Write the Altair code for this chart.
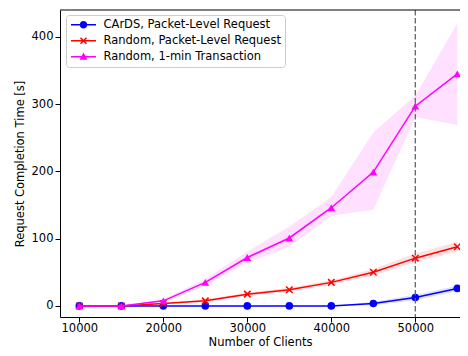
import altair as alt
import pandas as pd

clients = [10000, 15000, 20000, 25000, 30000, 35000, 40000, 45000, 50000, 55000]

series_names = ["CArDS, Packet-Level Request", "Random, Packet-Level Request", "Random, 1-min Transaction"]
series_colors = ["#0000ff", "#ff0000", "#ff00ff"]

cards_mean = [0, 0, 0, 0, 0, 0, 0, 3.5, 12.5, 26]
cards_lo = [0, 0, 0, 0, 0, 0, 0, 1, 8.5, 22]
cards_hi = [0, 0, 0, 0, 0, 0, 0, 6, 16.5, 30]

rand_mean = [0, 0, 3.5, 7.5, 17.5, 24, 35, 50, 71, 88]
rand_lo = [0, 0, 2.5, 5.5, 15, 21, 32, 45, 65, 81]
rand_hi = [0, 0, 4.5, 9.5, 20, 27, 38, 55, 78, 95]

trans_mean = [0, 0, 7.5, 35, 72, 101, 146, 199, 297, 345]
trans_lo = [0, 0, 5, 30, 64, 88, 134, 143, 281, 269]
trans_hi = [0, 0, 10, 40, 81, 118, 162, 258, 313, 420]

vline_x = [50000]

rows = []
for name, m, lo, hi in zip(series_names,
                           [cards_mean, rand_mean, trans_mean],
                           [cards_lo, rand_lo, trans_lo],
                           [cards_hi, rand_hi, trans_hi]):
    for c, a, b, d in zip(clients, m, lo, hi):
        rows.append({"series": name, "clients": c, "mean": a, "lo": b, "hi": d})
df = pd.DataFrame(rows)

FONT = "DejaVu Sans"
FS = 11.5
W, H = 400, 307
xscale = alt.Scale(domain=[7700, 55320], nice=False, zero=False)
yscale = alt.Scale(domain=[-16.5, 440], nice=False, zero=False)

X = alt.X("clients:Q", scale=xscale,
          axis=alt.Axis(title="Number of Clients", values=[10000, 20000, 30000, 40000, 50000],
                        format="d", grid=False))
Y = alt.Y("mean:Q", scale=yscale,
          axis=alt.Axis(title="Request Completion Time [s]", values=[0, 100, 200, 300, 400], grid=False))

base = alt.Chart(df)

marker_shapes = ["circle", "M-1,-1L1,1M-1,1L1,-1", "triangle-up"]
marker_filled = [True, False, True]
marker_sizes = [58, 42, 62]
band_opacity = [0.12, 0.12, 0.12]

layers = []
for name, col, shp, fl, sz, op in zip(series_names, series_colors, marker_shapes,
                                      marker_filled, marker_sizes, band_opacity):
    sub = base.transform_filter(alt.datum.series == name)
    layers.append(sub.mark_area(color=col, opacity=op, clip=True).encode(
        x=X, y=alt.Y("lo:Q", scale=yscale), y2="hi:Q"))
    layers.append(sub.mark_line(color=col, strokeWidth=1.5, clip=True).encode(x=X, y=Y))
    layers.append(sub.mark_point(shape=shp, filled=fl, size=sz, color=col,
                                 strokeWidth=1.5 if not fl else 0, opacity=1, clip=True).encode(x=X, y=Y))

# dashed reference line
vdf = pd.DataFrame({"clients": vline_x})
layers.append(alt.Chart(vdf).mark_rule(color="#666666", strokeWidth=1.3, strokeDash=[5.5, 2.5]).encode(
    x=alt.X("clients:Q", scale=xscale)))

# top spine
layers.append(alt.Chart(vdf).mark_rule(color="#000000", strokeWidth=1).encode(
    x=alt.value(0), x2=alt.value(W), y=alt.value(0)))

# legend carrier (invisible points); symbols are filled paths: line bar + marker
LINE = "M-0.95,-0.15L4.05,-0.15L4.05,0.15L-0.95,0.15Z"
legend_paths = [
    LINE + "M2.3,0A0.75,0.75,0,1,1,0.8,0A0.75,0.75,0,1,1,2.3,0Z",
    LINE + "M1.056,-0.706L2.256,0.494L2.044,0.706L0.844,-0.494Z"
         + "M0.844,0.494L2.044,-0.706L2.256,-0.494L1.056,0.706Z",
    LINE + "M1.55,-0.85L2.35,0.6L0.75,0.6Z",
]
leg = alt.Legend(title=None, orient="none", legendX=6, legendY=5)
layers.append(base.mark_point(opacity=0, filled=True).encode(
    x=X, y=Y,
    shape=alt.Shape("series:N", scale=alt.Scale(domain=series_names, range=legend_paths), legend=leg),
    color=alt.Color("series:N", scale=alt.Scale(domain=series_names, range=series_colors), legend=leg),
))

chart = alt.layer(*layers).properties(
    width=W, height=H,
    autosize=alt.AutoSizeParams(type="none"),
    padding={"left": 52, "top": 2, "right": 0, "bottom": 31},
).configure(font=FONT).configure_view(stroke=None).configure_axis(
    grid=False, domainColor="#000000", tickColor="#000000", tickSize=5, domainWidth=1,
    tickWidth=1, labelFont=FONT, titleFont=FONT, labelFontSize=FS, titleFontSize=FS,
    labelColor="#000000", titleColor="#000000", titleFontWeight="normal",
).configure_axisX(labelPadding=0.5, titlePadding=2).configure_axisY(labelPadding=2, titlePadding=6).configure_legend(
    fillColor="#ffffff", strokeColor="#cccccc", cornerRadius=3, padding=4,
    labelFont=FONT, labelFontSize=FS, labelColor="#000000", symbolSize=100,
    symbolStrokeWidth=0, labelOffset=22, rowPadding=3, labelLimit=300, symbolOpacity=1,
)

chart.save("out.html", embed_options={"renderer": "svg", "actions": False})
